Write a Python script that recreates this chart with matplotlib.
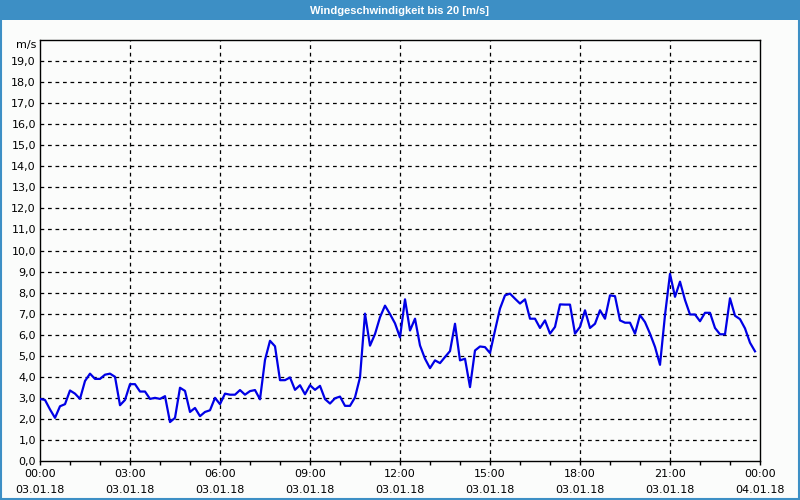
import numpy as np
import matplotlib
matplotlib.use("Agg")
import matplotlib.pyplot as plt
from matplotlib.patches import Rectangle
from matplotlib.transforms import blended_transform_factory

# wind speed every 10 minutes, 03.01.18 00:00 - 23:50
speeds = [
	2.95, 2.9, 2.45, 2.05, 2.6, 2.7, 3.35, 3.2, 2.95, 3.8,
	4.15, 3.9, 3.9, 4.1, 4.15, 4.0, 2.65, 2.9, 3.65, 3.65,
	3.3, 3.3, 2.95, 3.0, 2.95, 3.08, 1.85, 2.05, 3.48, 3.33,
	2.33, 2.52, 2.13, 2.33, 2.41, 3.0, 2.7, 3.2, 3.15, 3.15,
	3.37, 3.15, 3.32, 3.37, 2.93, 4.8, 5.71, 5.45, 3.84, 3.84,
	3.97, 3.38, 3.6, 3.17, 3.6, 3.38, 3.57, 2.94, 2.73, 2.98,
	3.06, 2.62, 2.62, 3.02, 3.97, 7.0, 5.48, 6.03, 6.83, 7.38,
	6.98, 6.54, 5.87, 7.68, 6.2, 6.76, 5.49, 4.86, 4.41, 4.78,
	4.65, 4.94, 5.22, 6.52, 4.78, 4.86, 3.51, 5.25, 5.44, 5.41,
	5.13, 6.2, 7.24, 7.87, 7.95, 7.71, 7.48, 7.68, 6.76, 6.76,
	6.32, 6.68, 6.05, 6.37, 7.44, 7.43, 7.43, 6.05, 6.37, 7.16,
	6.32, 6.52, 7.16, 6.76, 7.87, 7.83, 6.68, 6.57, 6.57, 6.05,
	6.93, 6.6, 6.05, 5.42, 4.57, 6.93, 8.89, 7.8, 8.52, 7.65,
	6.96, 6.96, 6.64, 7.04, 7.04, 6.32, 6.02, 6.02, 7.73, 6.9,
	6.74, 6.3, 5.62, 5.21,
]
hours = np.arange(len(speeds)) / 6.0

tick_hours = [0, 3, 6, 9, 12, 15, 18, 21, 24]
tick_times = ["00:00", "03:00", "06:00", "09:00", "12:00", "15:00", "18:00", "21:00", "00:00"]
tick_dates = ["03.01.18"] * 8 + ["04.01.18"]
y_ticks = list(range(0, 20))

title = "Windgeschwindigkeit bis 20 [m/s]"
bg = "#fbfcfb"
blue_frame = "#3d8fc5"

fig = plt.figure(figsize=(8, 5), dpi=100, facecolor=bg)
ax = fig.add_axes([0.05, 0.078, 0.90, 0.842])
ax.set_facecolor(bg)

# title bar + outer frame
fig.patches.append(Rectangle((0, 0.96), 1, 0.04, transform=fig.transFigure,
	facecolor=blue_frame, edgecolor="none", zorder=0))
fig.patches.append(Rectangle((0.001, 0.002), 0.998, 0.996, transform=fig.transFigure,
	facecolor="none", edgecolor=blue_frame, linewidth=1.5, zorder=5))
fig.text(0.5, 0.979, title, color="white", ha="center", va="center",
	fontsize=8, fontweight="bold", family="Liberation Sans")

ax.plot(hours, speeds, color="#0000e6", linewidth=1.6, zorder=3)

ax.set_xlim(0, 24)
ax.set_ylim(0, 20)
ax.set_xticks(tick_hours)
ax.set_xticklabels([t + "\n" + d for t, d in zip(tick_times, tick_dates)],
	fontsize=8, linespacing=1.75)
ax.set_xticks(range(0, 25), minor=True)
ax.tick_params(axis="x", which="both", direction="out", length=3, width=1, pad=3)
ax.set_yticks(y_ticks)
ax.set_yticklabels([("%d,0" % v) for v in y_ticks], fontsize=8)
ax.tick_params(axis="y", length=0, pad=3)

# grid: dashed black, majors only
for h in tick_hours[1:-1]:
	ax.axvline(h, color="black", linestyle=(0, (3, 3)), linewidth=0.9, zorder=1)
for v in y_ticks[1:]:
	ax.axhline(v, color="black", linestyle=(0, (3, 3)), linewidth=0.9, zorder=1)

for s in ax.spines.values():
	s.set_color("black")
	s.set_linewidth(1)

tr = blended_transform_factory(ax.transAxes, ax.transData)
ax.text(-0.0045, 19.75, "m/s", transform=tr, ha="right", va="center", fontsize=8)

fig.savefig("out.png", dpi=100, facecolor=bg)
